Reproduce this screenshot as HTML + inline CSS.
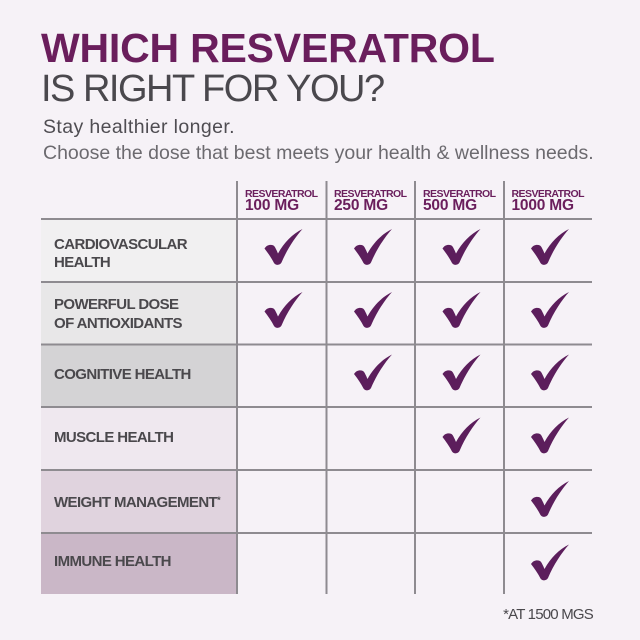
<!DOCTYPE html>
<html>
<head>
<meta charset="utf-8">
<style>
  html,body{margin:0;padding:0;}
  body{width:640px;height:640px;background:#f6f2f7;position:relative;overflow:hidden;font-family:"Liberation Sans",Arial,sans-serif;}
  .a{position:absolute;white-space:nowrap;}
  .t1{left:41px;top:28px;font-size:41px;line-height:41px;font-weight:bold;color:#6a1e5c;letter-spacing:-0.2px;}
  .t2{left:41px;top:70px;font-size:38px;line-height:38px;color:#4a484d;letter-spacing:-1.5px;}
  .s1{left:43px;top:116.5px;font-size:19.5px;line-height:20px;color:#4f4d52;letter-spacing:0.4px;}
  .s2{left:43px;top:142.5px;font-size:19.5px;line-height:20px;color:#6c6a6f;letter-spacing:0px;}
  .h1{font-size:10.5px;line-height:12px;font-weight:bold;color:#6a1e5c;letter-spacing:-0.55px;top:188px;}
  .h2{font-size:15.5px;line-height:16px;font-weight:bold;color:#6a1e5c;top:198px;letter-spacing:-0.2px;}
  .lb{left:54px;font-size:15px;line-height:18.5px;font-weight:bold;color:#4a484c;letter-spacing:-0.6px;}
  .fn{right:47px;top:606px;font-size:15px;line-height:18px;color:#4a484c;letter-spacing:-0.8px;}
  sup{font-size:9px;vertical-align:top;position:relative;top:-3px;}
</style>
</head>
<body>
<svg class="a" style="left:0;top:0" width="640" height="640" viewBox="0 0 640 640">
  <defs>
    <path id="ck" d="M0,20 C2,16.5 6,15.5 9,17 C10.5,18 12,21.5 13.5,25 C19.5,14 28,5.5 38,0.5 C30.5,9 23,20 17,34 C15.5,37 11,37 9.5,34.5 C7,29.5 3.5,24.5 0,20 Z" fill="#5c1e5c"/>
  </defs>
  <rect x="41" y="219" width="196" height="63" fill="#f1f0f1"/>
  <rect x="41" y="282" width="196" height="62.5" fill="#e8e7e8"/>
  <rect x="41" y="344.5" width="196" height="62.5" fill="#d4d3d5"/>
  <rect x="41" y="407" width="196" height="63" fill="#efe8ef"/>
  <rect x="41" y="470" width="196" height="63" fill="#e0d3de"/>
  <rect x="41" y="533" width="196" height="61" fill="#cab7c7"/>
  <g stroke="#8e8b90" stroke-width="2">
    <line x1="41" y1="219" x2="592" y2="219"/>
    <line x1="41" y1="282" x2="592" y2="282"/>
    <line x1="41" y1="344.5" x2="592" y2="344.5"/>
    <line x1="41" y1="407" x2="592" y2="407"/>
    <line x1="41" y1="470" x2="592" y2="470"/>
    <line x1="41" y1="533" x2="592" y2="533"/>
    <line x1="237" y1="181" x2="237" y2="594"/>
    <line x1="326.5" y1="181" x2="326.5" y2="594"/>
    <line x1="415" y1="181" x2="415" y2="594"/>
    <line x1="504" y1="181" x2="504" y2="594"/>
  </g>
  <use href="#ck" x="264.5" y="228.5"/>
  <use href="#ck" x="354" y="228.5"/>
  <use href="#ck" x="442.5" y="228.5"/>
  <use href="#ck" x="531" y="228.5"/>
  <use href="#ck" x="264.5" y="291.5"/>
  <use href="#ck" x="354" y="291.5"/>
  <use href="#ck" x="442.5" y="291.5"/>
  <use href="#ck" x="531" y="291.5"/>
  <use href="#ck" x="354" y="354"/>
  <use href="#ck" x="442.5" y="354"/>
  <use href="#ck" x="531" y="354"/>
  <use href="#ck" x="442.5" y="417"/>
  <use href="#ck" x="531" y="417"/>
  <use href="#ck" x="531" y="480.5"/>
  <use href="#ck" x="531" y="544"/>
</svg>

<div class="a t1">WHICH RESVERATROL</div>
<div class="a t2">IS RIGHT FOR YOU?</div>
<div class="a s1">Stay healthier longer.</div>
<div class="a s2">Choose the dose that best meets your health &amp; wellness needs.</div>

<div class="a h1" style="left:245px">RESVERATROL</div>
<div class="a h2" style="left:245px">100 MG</div>
<div class="a h1" style="left:334px">RESVERATROL</div>
<div class="a h2" style="left:334px">250 MG</div>
<div class="a h1" style="left:423px">RESVERATROL</div>
<div class="a h2" style="left:423px">500 MG</div>
<div class="a h1" style="left:511.5px">RESVERATROL</div>
<div class="a h2" style="left:511.5px">1000 MG</div>

<div class="a lb" style="top:235.5px">CARDIOVASCULAR<br>HEALTH</div>
<div class="a lb" style="top:296.3px">POWERFUL DOSE<br>OF ANTIOXIDANTS</div>
<div class="a lb" style="top:366.3px">COGNITIVE HEALTH</div>
<div class="a lb" style="top:428.6px">MUSCLE HEALTH</div>
<div class="a lb" style="top:493.9px">WEIGHT MANAGEMENT<sup>*</sup></div>
<div class="a lb" style="top:553.3px">IMMUNE HEALTH</div>

<div class="a fn">*AT 1500 MGS</div>
</body>
</html>
